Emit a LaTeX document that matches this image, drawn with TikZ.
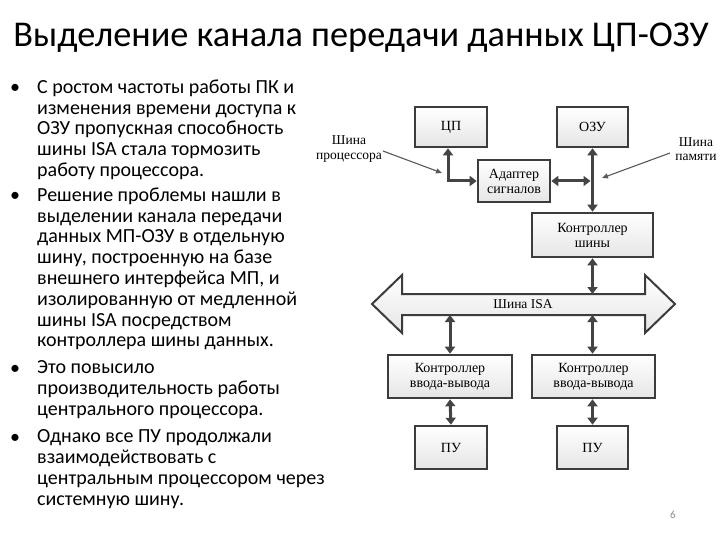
\documentclass[tikz,border=0pt]{standalone}
\usepackage{fontspec}
\setmainfont{Carlito}
\newfontfamily\tnr{Liberation Serif}
\usetikzlibrary{arrows.meta}
\definecolor{dgray}{HTML}{3C3C3C}
\definecolor{agray}{HTML}{444444}
\definecolor{lgray}{HTML}{595959}
\tikzset{
  box/.style={draw=dgray, line width=2.6pt, top color=white, bottom color=black!10,
    font=\tnr\fontsize{14}{15}\selectfont, align=center, inner sep=0pt},
  bus/.style={draw=agray, line width=3pt,
    {Triangle[length=7pt,width=10pt]}-{Triangle[length=7pt,width=10pt]}},
  lbl/.style={font=\tnr\fontsize{13.5}{14.5}\selectfont, align=center, inner sep=0pt},
  lblarrow/.style={draw=lgray, line width=1.1pt, -{Triangle[length=6pt,width=5pt]}},
  bullettext/.style={anchor=north west, align=left, inner sep=0pt,
    font=\fontsize{20}{20.8}\selectfont},
  bulletdot/.style={anchor=base west, inner sep=0pt, font=\fontsize{20}{20.8}\selectfont}
}
\begin{document}
\begin{tikzpicture}[x=1pt,y=-1pt]
\useasboundingbox[fill=white] (0,0) rectangle (720,540);

% title
\node[inner sep=0pt, font=\fontsize{36.3}{40}\selectfont] (title) at (361,38) {Выделение канала передачи данных ЦП-ОЗУ};

% bullets
\node[bulletdot] (d1) at (10,93.5) {•};
\node[bullettext] (t1) at (37,79.5) {С ростом частоты работы ПК и\\изменения времени доступа к\\ОЗУ пропускная способность\\шины ISA стала тормозить\\работу процессора.};
\node[bulletdot] (d2) at (10,201.5) {•};
\node[bullettext] (t2) at (37,187.5) {Решение проблемы нашли в\\выделении канала передачи\\данных МП-ОЗУ в отдельную\\шину, построенную на базе\\внешнего интерфейса МП, и\\изолированную от медленной\\шины ISA посредством\\контроллера шины данных.};
\node[bulletdot] (d3) at (10,374.5) {•};
\node[bullettext] (t3) at (37,360.5) {Это повысило\\производительность работы\\центрального процессора.};
\node[bulletdot] (d4) at (10,443.5) {•};
\node[bullettext] (t4) at (37,429.5) {Однако все ПУ продолжали\\взаимодействовать с\\центральным процессором через\\системную шину.};

% boxes
\node[box, minimum width=72pt, minimum height=40pt] (cp) at (451,127) {ЦП};
\node[box, minimum width=71pt, minimum height=40pt] (ozu) at (592.5,127) {ОЗУ};
\node[box, minimum width=72pt, minimum height=42pt] (ad) at (514,181) {Адаптер\\сигналов};
\node[box, minimum width=121pt, minimum height=44pt] (ks) at (592.5,235) {Контроллер\\шины};
\node[box, minimum width=124pt, minimum height=43pt] (io1) at (450,376.5) {Контроллер\\ввода-вывода};
\node[box, minimum width=123pt, minimum height=43pt] (io2) at (593.5,376.5) {Контроллер\\ввода-вывода};
\node[box, minimum width=72pt, minimum height=43pt] (pu1) at (451,447.5) {ПУ};
\node[box, minimum width=71pt, minimum height=43pt] (pu2) at (592.5,447.5) {ПУ};

% ISA bus
\coordinate (isatop) at (0,294);
\coordinate (isabot) at (0,315);
\draw[draw=dgray, line width=2pt, top color=white, bottom color=black!10]
  (372,304) -- (402,275) -- (402,294) -- (645,294) -- (645,275) -- (675,304)
  -- (645,333) -- (645,315) -- (402,315) -- (402,333) -- cycle;
\node[lbl, font=\tnr\fontsize{13.5}{14}\selectfont] (isa) at (523,304.5) {Шина ISA};

% connectors
\draw[bus] ([xshift=-3pt]cp.south) |- (ad.west);
\coordinate (jn) at (ad.east -| ozu.south);
\draw[bus] (ad.east) -- ([xshift=-2pt]jn);
\draw[bus] (ozu.south) -- (ks.north);
\draw[bus] (ks.south) -- (ks.south |- isatop);
\draw[bus] (io1.north |- isabot) -- (io1.north);
\draw[bus] ([xshift=-1pt]io2.north |- isabot) -- ([xshift=-1pt]io2.north);
\draw[bus] (io1.south) -- (pu1.north);
\draw[bus] ([xshift=-1pt]io2.south) -- ([xshift=-1pt]io2.south |- pu2.north);

% labels with arrows
\node[lbl] (lp) at (349,149) {Шина\\процессора};
\node[lbl] (lm) at (696,149) {Шина\\памяти};
\coordinate (lpend) at (442,173);
\coordinate (lmend) at (602,178);
\draw[lblarrow] (383,151) -- (lpend);
\draw[lblarrow] (670,153) -- (lmend);

% page number
\node[inner sep=0pt, text=black!45, font=\fontsize{11}{12}\selectfont] (pg) at (673,515) {6};
\end{tikzpicture}
\end{document}
